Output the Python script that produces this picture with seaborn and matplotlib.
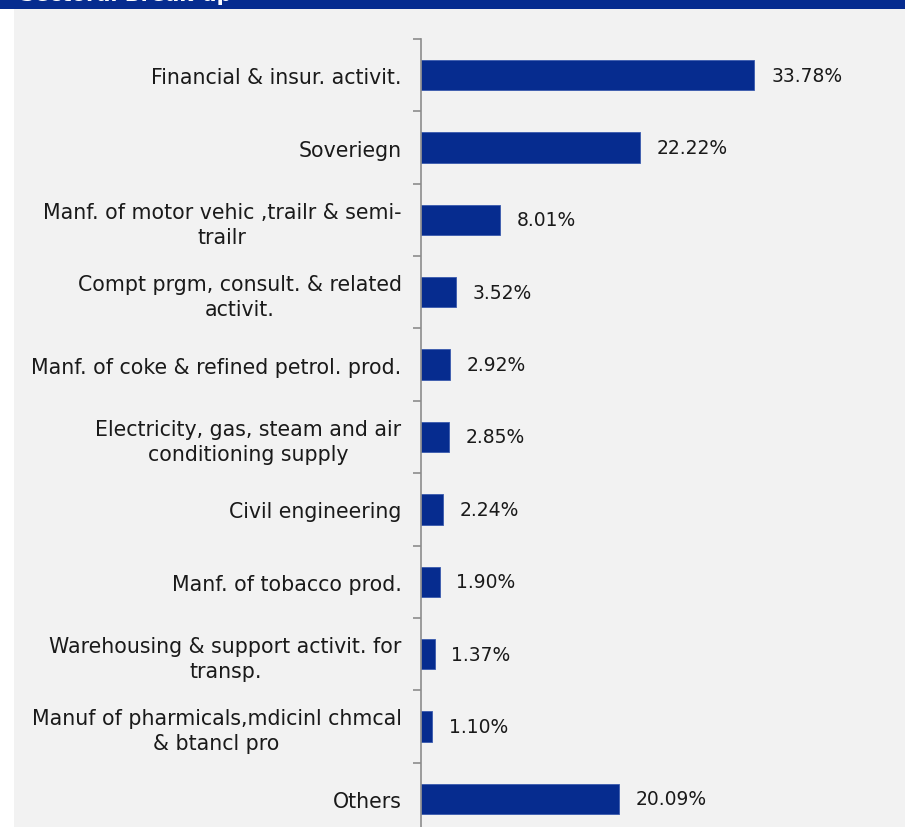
import matplotlib
matplotlib.use("Agg")
import matplotlib.pyplot as plt
from matplotlib.patches import Rectangle
import seaborn as sns
import pandas as pd

categories = [
    "Financial & insur. activit.",
    "Soveriegn",
    "Manf. of motor vehic ,trailr & semi-\ntrailr",
    "Compt prgm, consult. & related\nactivit.",
    "Manf. of coke & refined petrol. prod.",
    "Electricity, gas, steam and air\nconditioning supply",
    "Civil engineering",
    "Manf. of tobacco prod.",
    "Warehousing & support activit. for\ntransp.",
    "Manuf of pharmicals,mdicinl chmcal\n& btancl pro",
    "Others",
]
values = [33.78, 22.22, 8.01, 3.52, 2.92, 2.85, 2.24, 1.90, 1.37, 1.10, 20.09]
value_labels = ["33.78%", "22.22%", "8.01%", "3.52%", "2.92%", "2.85%",
                "2.24%", "1.90%", "1.37%", "1.10%", "20.09%"]
title = "Sectoral Break-up"

sns.set_theme(style="white")
plt.rcParams["font.family"] = ["DejaVu Sans"]

W, H = 916, 828
fig = plt.figure(figsize=(W / 100, H / 100), dpi=100, facecolor="white")

# background panel and header band
fig.patches.append(Rectangle((14 / W, 0), (905 - 14) / W, 1, transform=fig.transFigure,
                             facecolor="#F2F2F2", edgecolor="none", zorder=-10))
fig.patches.append(Rectangle((0, 1 - 10 / H), 905 / W, 10 / H, transform=fig.transFigure,
                             facecolor="#062C8F", edgecolor="none", zorder=-5))
fig.text(20 / W, 1 + 5 / H, title, color="white", fontsize=15, fontweight="bold",
         ha="left", va="center")

px = 9.87
xmax = 48
ax = fig.add_axes([421 / W, 1 - 836 / H, xmax * px / W, 796 / H])
ax.set_facecolor("none")

df = pd.DataFrame({"cat": categories, "val": values})
sns.barplot(data=df, x="val", y="cat", orient="h", color="#062C8F", width=0.42,
            saturation=1, ax=ax, edgecolor="#3A5AAE", linewidth=0.6)

ax.set_xlim(0, xmax)
ax.set_ylim(len(categories) - 0.5, -0.5)
ax.set_xlabel("")
ax.set_ylabel("")
ax.set_xticks([])

for s in ["top", "right", "bottom"]:
    ax.spines[s].set_visible(False)
ax.spines["left"].set_color("#8C8C8C")
ax.spines["left"].set_linewidth(1.2)

ax.set_yticks(range(len(categories)))
ax.set_yticklabels(categories, multialignment="center", linespacing=1.3)
ax.set_yticks([i - 0.5 for i in range(len(categories) + 1)], minor=True)
ax.tick_params(axis="y", which="major", left=True, length=0, pad=14, labelsize=14.8,
               labelcolor="#1A1A1A")
ax.tick_params(axis="y", which="minor", left=True, length=6, width=1.2,
               color="#8C8C8C", direction="out")

ax.bar_label(ax.containers[0], labels=value_labels, padding=12, fontsize=13.5,
             color="#1A1A1A")

fig.savefig("out.png", dpi=100, facecolor="white")
